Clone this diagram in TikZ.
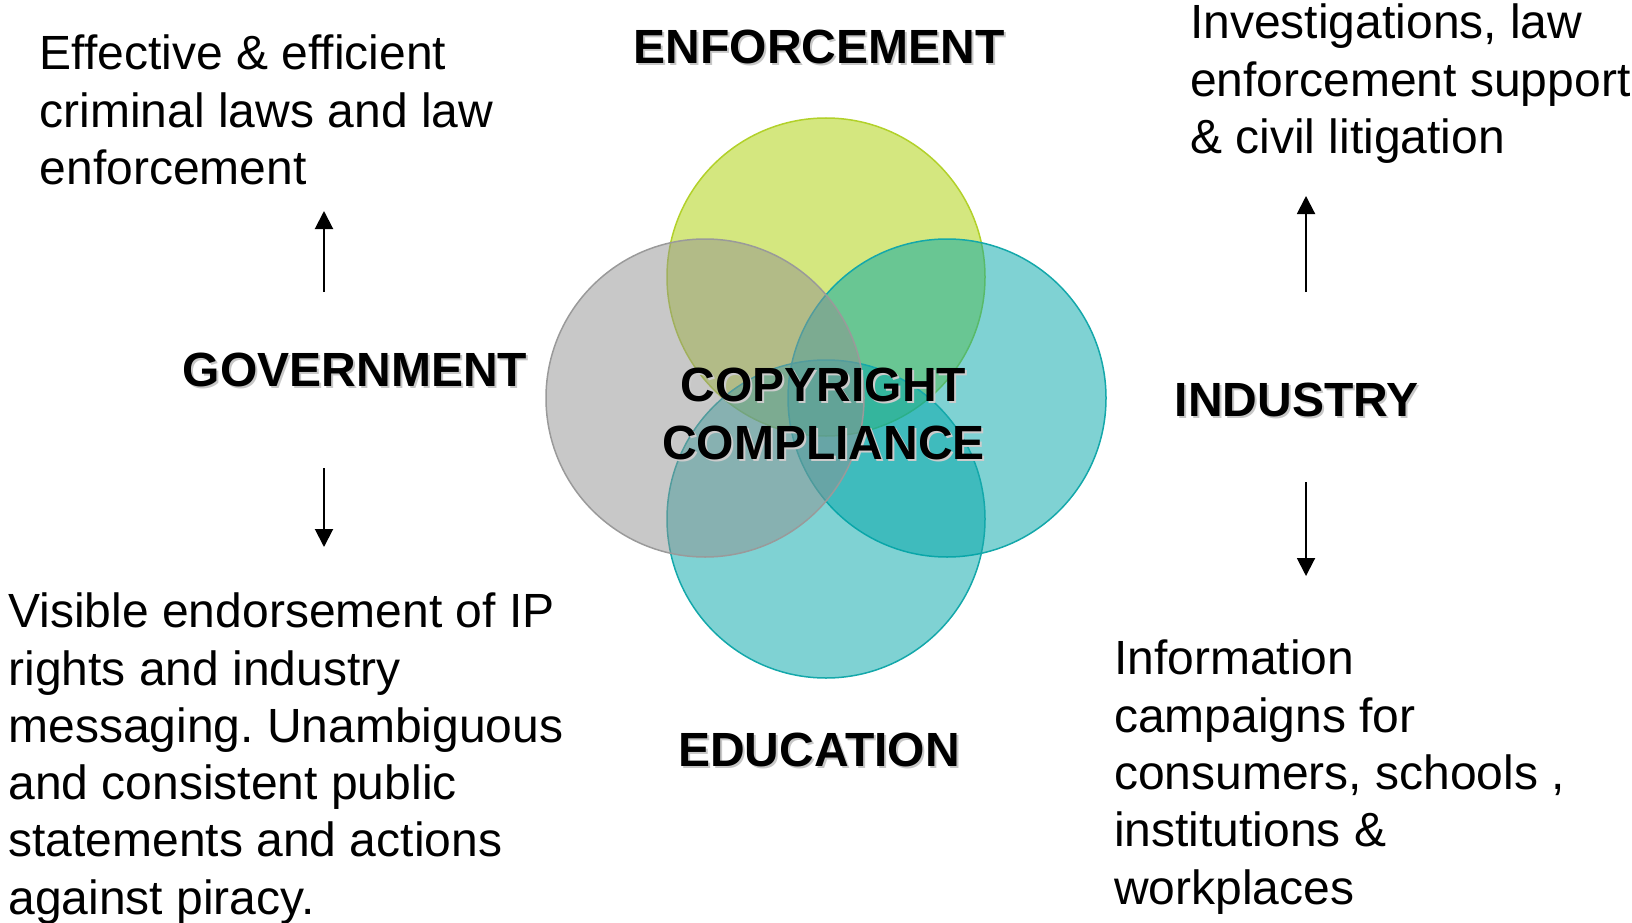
\documentclass[tikz,border=0pt]{standalone}
\usepackage{fontspec}
\setmainfont{Liberation Sans}
\usetikzlibrary{arrows.meta}
\definecolor{yel}{HTML}{A9CF00}
\definecolor{yeledge}{HTML}{B2D12A}
\definecolor{gry}{HTML}{919191}
\definecolor{gryedge}{HTML}{9A9A9A}
\definecolor{tea}{HTML}{00A5A8}
\definecolor{teaedge}{HTML}{14A8AA}
\begin{document}
\frenchspacing
\begin{tikzpicture}[x=1pt,y=-1pt,
  body/.style={font=\fontsize{48}{57.3}\selectfont\frenchspacing, align=left, anchor=north west, inner sep=0pt},
  lbl/.style={font=\fontsize{48}{57.3}\selectfont\bfseries, anchor=base, inner sep=0pt},
  ctr/.style={font=\fontsize{48}{58}\selectfont\bfseries, align=center, inner sep=0pt},
  shd/.style={text=black!22},
  arr/.style={line width=2pt, -{Triangle[width=18pt,length=18pt]}},
  venn/.style={circle, minimum size=318pt, inner sep=0pt, line width=1.5pt, fill opacity=0.5}
]
\useasboundingbox (0,0) rectangle (1632,923);

% circles
\node[venn, fill=yel, draw=yeledge] (cEnf) at (826,277) {};
\node[venn, fill=tea, draw=teaedge] (cInd) at (947,398) {};
\node[venn, fill=tea, draw=teaedge] (cEdu) at (826,519) {};
\node[venn, fill=gry, draw=gryedge] (cGov) at (705,398) {};

% centre text
\node[ctr, text=white!80!black] (ccShd) at (825.5,420.5) {\strut COPYRIGHT\\COMPLIANCE\strut};
\node[ctr] (cc) at (823.5,418.5) {\strut COPYRIGHT\\COMPLIANCE\strut};

% labels
\node[lbl, shd] (enfShd) at (821,66) {ENFORCEMENT};
\node[lbl] (enf) at (819,64) {ENFORCEMENT};
\node[lbl, shd] (govShd) at (357,388.5) {GOVERNMENT};
\node[lbl] (gov) at (355,386.5) {GOVERNMENT};
\node[lbl, shd] (indShd) at (1298.5,418) {INDUSTRY};
\node[lbl] (ind) at (1296.5,416) {INDUSTRY};
\node[lbl, shd] (eduShd) at (821,768.5) {EDUCATION};
\node[lbl] (edu) at (819,766.5) {EDUCATION};

% text blocks
\node[body] (tl) at (39.5,29.6) {\strut Effective \& efficient\\criminal laws and law\\enforcement};
\node[body] (tr) at (1190,-1.6) {\strut Investigations, law\\enforcement support\\\& civil litigation};
\node[body] (bl) at (8.3,587.4) {\strut Visible endorsement of IP\\rights and industry\\messaging. Unambiguous\\and consistent public\\statements and actions\\against piracy.};
\node[body] (br) at (1114,634.6) {\strut Information\\campaigns for\\consumers, schools ,\\institutions \&\\workplaces};

% arrows
\coordinate (gu1) at (324,292);
\coordinate (gu2) at (324,211);
\coordinate (gd1) at (324,468);
\coordinate (gd2) at (324,547);
\coordinate (iu1) at (1306,292);
\coordinate (iu2) at (1306,196);
\coordinate (id1) at (1306,482);
\coordinate (id2) at (1306,576);
\draw[arr] (gu1) -- (gu2);
\draw[arr] (gd1) -- (gd2);
\draw[arr] (iu1) -- (iu2);
\draw[arr] (id1) -- (id2);
\end{tikzpicture}
\end{document}
